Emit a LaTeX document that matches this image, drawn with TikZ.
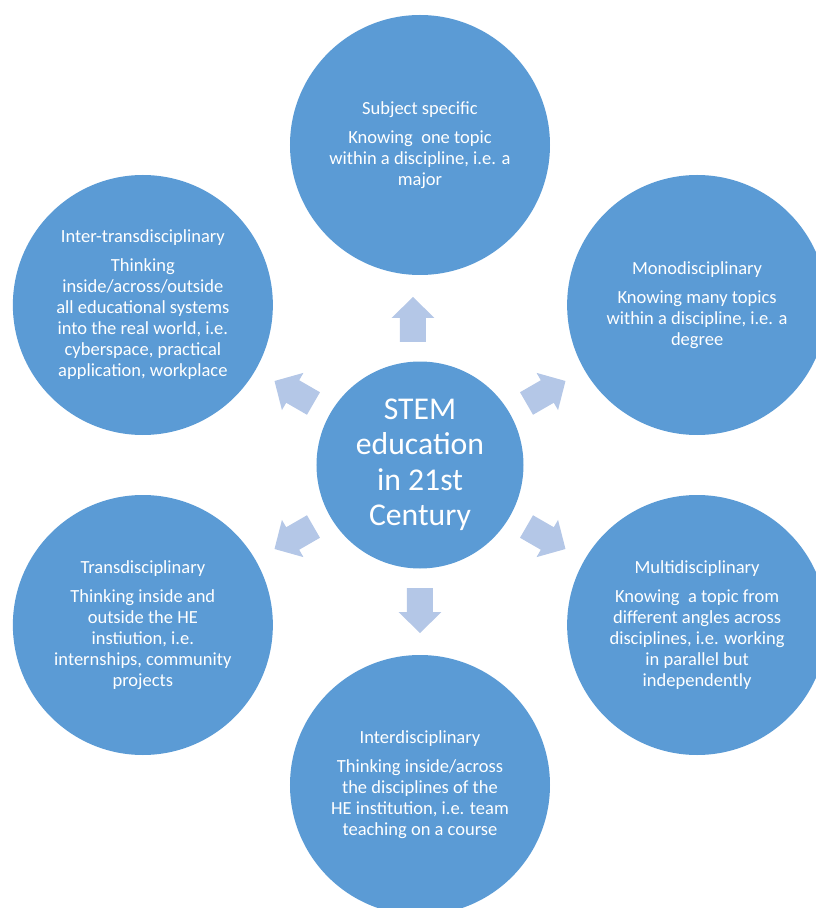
\documentclass[tikz,border=0pt]{standalone}
\usepackage{fontspec}
\setmainfont{Carlito}
\definecolor{discblue}{HTML}{5B9BD5}
\definecolor{arrowblue}{HTML}{B4C7E7}
\tikzset{
  hub/.style={circle, fill=discblue, text=white, minimum size=207pt,
    inner sep=0pt, align=center, font=\fontsize{31.7}{35.5}\selectfont},
  topic/.style={circle, fill=discblue, text=white, minimum size=260pt,
    inner sep=0pt, align=center, font=\fontsize{18.5}{21}\selectfont},
  arrowfill/.style={fill=arrowblue}
}
\begin{document}
\begin{tikzpicture}[x=1pt,y=1pt]
      \useasboundingbox (-420,-443) rectangle (396,465);
      \node[hub] (stem) at (0,0) {STEM\\education\\in 21st\\Century};
      \path
        (90:320) node[topic] (subject) {Subject specific\\[8pt]Knowing~ one topic\\within a discipline, i.e. a\\major}
        (30:320) node[topic] (mono) {Monodisciplinary\\[8pt]Knowing many topics\\within a discipline, i.e. a\\degree}
        (-30:320) node[topic] (multi) {Multidisciplinary\\[8pt]Knowing~ a topic from\\different angles across\\disciplines, i.e. working\\in parallel but\\independently}
        (-90:320) node[topic] (inter) {Interdisciplinary\\[8pt]Thinking inside/across\\the disciplines of the\\HE institution, i.e. team\\teaching on a course}
        (-150:320) node[topic] (trans) {Transdisciplinary\\[8pt]Thinking inside and\\outside the HE\\instiution, i.e.\\internships, community\\projects}
        (150:320) node[topic] (intertrans) {Inter-transdisciplinary\\[8pt]Thinking\\inside/across/outside\\all educational systems\\into the real world, i.e.\\cyberspace, practical\\application, workplace};
      % block arrows out of the hub
      \foreach \a/\o in {90/7, 30/0, -30/0, -90/0, -150/0, 150/0}
        \fill[arrowfill, shift={(stem.center)}, rotate=\a, yshift=\o pt]
          (123,-13) -- (147,-13) -- (147,-21.5) -- (168,0)
          -- (147,21.5) -- (147,13) -- (123,13) -- cycle;
    \end{tikzpicture}
\end{document}
